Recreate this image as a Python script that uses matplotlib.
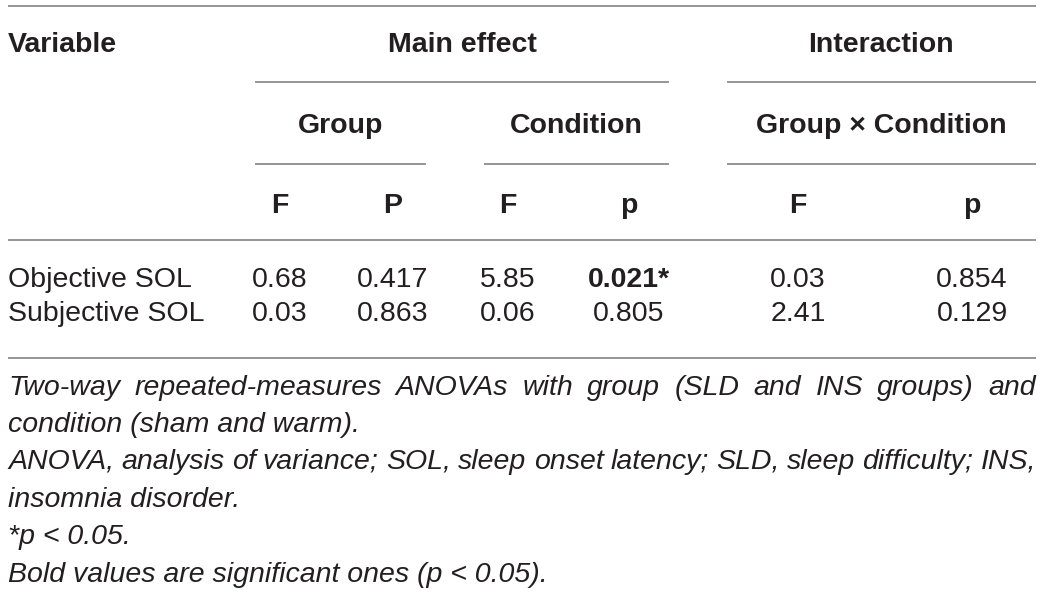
import matplotlib
matplotlib.use("Agg")
import matplotlib.pyplot as plt

# --- table data ---
variables = ["Objective SOL", "Subjective SOL"]
group_F = [0.68, 0.03]
group_p = [0.417, 0.863]
cond_F = [5.85, 0.06]
cond_p = [0.021, 0.805]
inter_F = [0.03, 2.41]
inter_p = [0.854, 0.129]
col_heads = ["F", "P", "F", "p", "F", "p"]

notes = [
    ("Two-way repeated-measures ANOVAs with group (SLD and INS groups) and", True),
    ("condition (sham and warm).", False),
    ("ANOVA, analysis of variance; SOL, sleep onset latency; SLD, sleep difficulty; INS,", True),
    ("insomnia disorder.", False),
    ("*p < 0.05.", False),
    ("Bold values are significant ones (p < 0.05).", False),
]

W, H = 1043, 594
TXT = "#231f20"
LINE = "#8c8c8c"
FS = 20.5
plt.rcParams["font.family"] = ["Liberation Sans", "DejaVu Sans"]

fig = plt.figure(figsize=(W / 100, H / 100), dpi=100)
ax = fig.add_axes([0, 0, 1, 1])
ax.set_xlim(0, W)
ax.set_ylim(H, 0)
ax.axis("off")

def hline(y, x0, x1):
    ax.plot([x0, x1], [y, y], color=LINE, lw=1.3, solid_capstyle="butt")

left, right = 8, 1036
col_x = [280, 393, 508, 629, 798, 972]

# rules
hline(6, left, right)
hline(82, 255, 669)
hline(82, 727, right)
hline(164, 255, 426)
hline(164, 484, 669)
hline(164, 727, right)
hline(240, left, right)
hline(358, left, right)

# headers
ax.text(left, 52, "Variable", fontsize=FS, fontweight="bold", color=TXT, va="baseline")
ax.text(462, 52, "Main effect", fontsize=FS, fontweight="bold", color=TXT, ha="center", va="baseline")
ax.text(881, 52, "Interaction", fontsize=FS, fontweight="bold", color=TXT, ha="center", va="baseline")
ax.text(341, 133, "Group", fontsize=FS, fontweight="bold", color=TXT, ha="center", va="baseline")
ax.text(576, 133, "Condition", fontsize=FS, fontweight="bold", color=TXT, ha="center", va="baseline")
ax.text(881, 133, "Group \u00d7 Condition", fontsize=FS, fontweight="bold", color=TXT, ha="center", va="baseline")
for x, h in zip(col_x, col_heads):
    ax.text(x, 213, h, fontsize=FS, fontweight="bold", color=TXT, ha="center", va="baseline")

# body rows
row_y = [287, 321]
for i, name in enumerate(variables):
    y = row_y[i]
    ax.text(left, y, name, fontsize=FS, color=TXT, va="baseline")
    cells = [f"{group_F[i]:.2f}", f"{group_p[i]:.3f}", f"{cond_F[i]:.2f}",
             f"{cond_p[i]:.3f}", f"{inter_F[i]:.2f}", f"{inter_p[i]:.3f}"]
    pvals = [None, group_p[i], None, cond_p[i], None, inter_p[i]]
    for x, c, pv in zip(col_x, cells, pvals):
        sig = pv is not None and pv < 0.05
        ax.text(x, y, c + ("*" if sig else ""), fontsize=FS, color=TXT,
                fontweight="bold" if sig else "normal", ha="center", va="baseline")

# footnotes (some lines justified)
renderer = fig.canvas.get_renderer()
note_y = [395, 432, 469, 507, 544, 582]
for (line, justify), y in zip(notes, note_y):
    if not justify:
        ax.text(left, y, line, fontsize=FS, style="italic", color=TXT, va="baseline")
        continue
    words = line.split(" ")
    items = [ax.text(0, y, w, fontsize=FS, style="italic", color=TXT, va="baseline") for w in words]
    widths = [t.get_window_extent(renderer).width for t in items]
    gap = (right - left - sum(widths)) / (len(words) - 1)
    x = left
    for t, w in zip(items, widths):
        t.set_x(x)
        x += w + gap

fig.savefig("out.png", dpi=100)
